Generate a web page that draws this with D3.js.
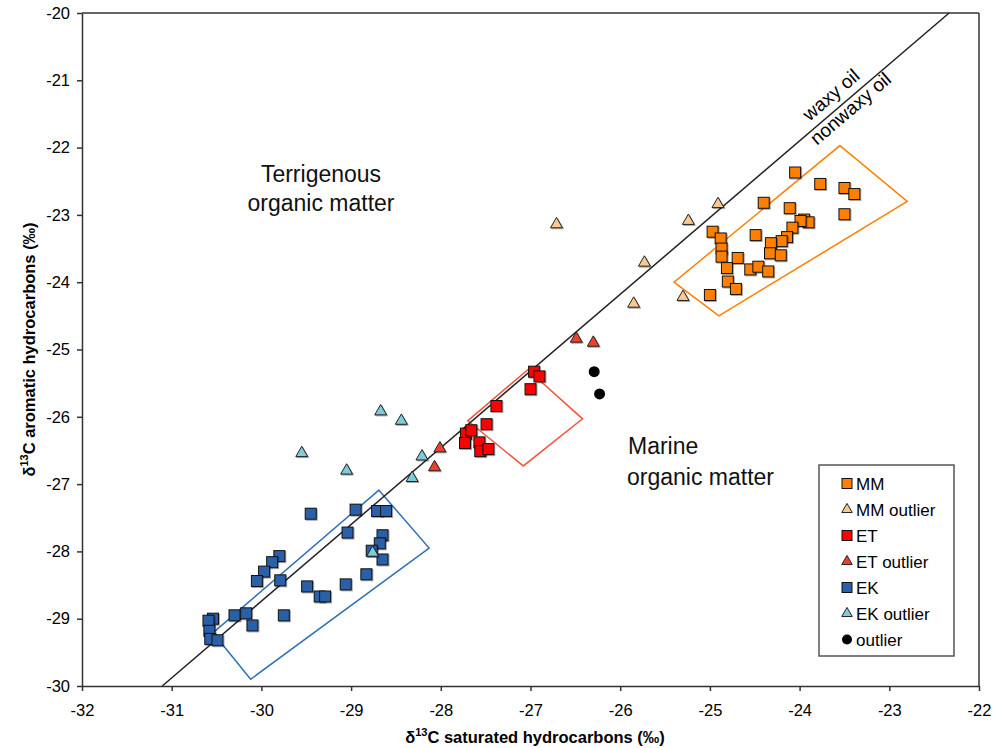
<!DOCTYPE html>
<html>
<head>
<meta charset="utf-8">
<script src="https://cdn.jsdelivr.net/npm/d3@7"></script>
<style>
  body { margin: 0; background: #fff; }
  svg { display: block; font-family: "Liberation Sans", Arial, sans-serif; }
</style>
</head>
<body>
<svg id="chart" width="995" height="748"></svg>
<script>
// [δ13C saturated, δ13C aromatic]
const mmPoints = [
  [-24.05, -22.37], [-23.77, -22.54], [-23.50, -22.60], [-23.39, -22.69], [-23.50, -22.99],
  [-24.40, -22.82], [-24.11, -22.90], [-23.95, -23.07], [-23.90, -23.11], [-23.99, -23.09],
  [-24.08, -23.19], [-24.14, -23.33], [-24.20, -23.39], [-24.32, -23.42], [-24.33, -23.57],
  [-24.21, -23.60], [-24.97, -23.25], [-24.88, -23.35], [-24.87, -23.50], [-24.87, -23.62],
  [-24.69, -23.64], [-24.49, -23.30], [-24.81, -23.79], [-24.55, -23.81], [-24.46, -23.77],
  [-24.35, -23.84], [-24.80, -23.99], [-24.71, -24.10], [-25.00, -24.19]
];
const mmOutliers = [
  [-24.91, -22.84], [-25.24, -23.09], [-25.73, -23.71], [-25.30, -24.22], [-25.85, -24.32],
  [-26.71, -23.14]
];
const etPoints = [
  [-26.96, -25.33], [-26.90, -25.40], [-27.00, -25.59], [-27.38, -25.84], [-27.49, -26.11],
  [-27.72, -26.25], [-27.66, -26.20], [-27.73, -26.39], [-27.57, -26.38], [-27.56, -26.51],
  [-27.47, -26.48]
];
const etOutliers = [[-26.49, -24.84], [-26.30, -24.90], [-28.01, -26.47], [-28.07, -26.75]];
const ekPoints = [
  [-29.45, -27.44], [-28.95, -27.38], [-28.71, -27.40], [-28.61, -27.40], [-29.04, -27.72],
  [-28.65, -27.76], [-28.68, -27.88], [-28.77, -27.99], [-28.65, -28.12], [-29.80, -28.07],
  [-29.88, -28.16], [-29.97, -28.30], [-30.05, -28.44], [-29.79, -28.43], [-28.83, -28.34],
  [-29.06, -28.49], [-29.49, -28.52], [-29.35, -28.67], [-29.29, -28.67], [-29.75, -28.95],
  [-30.30, -28.95], [-30.17, -28.92], [-30.10, -29.10], [-30.54, -29.00], [-30.59, -29.03],
  [-30.58, -29.18], [-30.57, -29.30], [-30.49, -29.32]
];
const ekOutliers = [
  [-28.67, -25.92], [-28.44, -26.06], [-29.55, -26.54], [-29.05, -26.80], [-28.21, -26.59],
  [-28.32, -26.91], [-28.76, -28.02]
];
const otherOutliers = [[-26.29, -25.33], [-26.23, -25.66]];

// field outlines
const mmField = [[-23.55, -21.97], [-22.80, -22.80], [-24.90, -24.50], [-25.40, -24.00]];
const etField = [[-27.03, -25.30], [-26.42, -26.03], [-27.08, -26.73], [-27.70, -26.06]];
const ekField = [[-28.69, -27.09], [-28.13, -27.95], [-30.12, -29.90], [-30.54, -29.21]];

// Sofer (1984) line: arom = 1.14 * sat + 5.46
const soferSlope = 1.14, soferIntercept = 5.46;

const xTicks = d3.range(-32, -21, 1);
const yTicks = d3.range(-30, -19, 1);

const colors = {
  MM: "#ff8000", MMout: "#fbc98f",
  ET: "#ff0000", ETout: "#f0402c",
  EK: "#2b60a8", EKout: "#7fcbd9",
  MMline: "#ff8000", ETline: "#f4553c", EKline: "#3070b6"
};

const svg = d3.select("#chart");
const x = d3.scaleLinear().domain([-32, -22]).range([82, 979]);
const y = d3.scaleLinear().domain([-30, -20]).range([686, 13]);

const defs = svg.append("defs");
const f = defs.append("filter").attr("id", "shadow")
  .attr("x", "-30%").attr("y", "-30%").attr("width", "160%").attr("height", "160%");
f.append("feDropShadow").attr("dx", 1).attr("dy", 1).attr("stdDeviation", 0.6)
  .attr("flood-color", "#000").attr("flood-opacity", 0.35);

// axes
const xAxis = svg.append("g")
  .attr("transform", `translate(0,${y(-30)})`)
  .call(d3.axisBottom(x).tickValues(xTicks).tickSize(5).tickSizeOuter(0).tickPadding(13).tickFormat(d3.format("d")));
const yAxis = svg.append("g")
  .attr("transform", `translate(${x(-32)},0)`)
  .call(d3.axisLeft(y).tickValues(yTicks).tickSize(5).tickSizeOuter(0).tickPadding(7).tickFormat(d3.format("d")));

[xAxis, yAxis].forEach(g => {
  g.selectAll("path, line").attr("stroke", "#333").attr("stroke-width", 1.5);
  g.selectAll("text").attr("font-size", 16.5).attr("fill", "#000")
    .attr("font-family", "Liberation Sans, Arial, sans-serif")
    .text(d => d3.format("d")(d).replace("−", "-"));
});

// top and right frame
svg.append("line").attr("x1", x(-32)).attr("x2", x(-22)).attr("y1", y(-20)).attr("y2", y(-20))
  .attr("stroke", "#333").attr("stroke-width", 1.5);
svg.append("line").attr("x1", x(-22)).attr("x2", x(-22)).attr("y1", y(-20)).attr("y2", y(-30))
  .attr("stroke", "#333").attr("stroke-width", 1.5);

// field polygons
const poly = d3.line().x(d => x(d[0])).y(d => y(d[1])).curve(d3.curveLinearClosed);
[[mmField, colors.MMline], [etField, colors.ETline], [ekField, colors.EKline]].forEach(([pts, c]) => {
  svg.append("path").attr("d", poly(pts)).attr("fill", "none").attr("stroke", c).attr("stroke-width", 1.5);
});

// Sofer line
const soferX0 = (-30 - soferIntercept) / soferSlope;
const soferX1 = (-20 - soferIntercept) / soferSlope;
svg.append("line")
  .attr("x1", x(soferX0)).attr("y1", y(-30))
  .attr("x2", x(soferX1)).attr("y2", y(-20))
  .attr("stroke", "#222").attr("stroke-width", 1.5);

// labels along the line
const angle = Math.atan2(y(-20) - y(-30), x(soferX1) - x(soferX0)) * 180 / Math.PI;
const anchorX = -24;
const anchor = [x(anchorX), y(soferSlope * anchorX + soferIntercept)];
const lineLabels = svg.append("g")
  .attr("transform", `translate(${anchor[0]},${anchor[1]}) rotate(${angle})`)
  .attr("font-size", 19).attr("fill", "#000");
lineLabels.append("text").attr("x", 20).attr("y", -8).text("waxy oil");
lineLabels.append("text").attr("x", 10).attr("y", 15).text("nonwaxy oil");

// markers
function squares(data, fill) {
  svg.append("g").selectAll("rect").data(data).join("rect")
    .attr("x", d => x(d[0]) - 5.5).attr("y", d => y(d[1]) - 5.5)
    .attr("width", 11).attr("height", 11)
    .attr("fill", fill).attr("stroke", "#111").attr("stroke-width", 1)
    .attr("filter", "url(#shadow)");
}
const tri = d3.symbol().type(d3.symbolTriangle).size(62);
function triangles(data, fill) {
  svg.append("g").selectAll("path").data(data).join("path")
    .attr("d", tri)
    .attr("transform", d => `translate(${x(d[0])},${y(d[1])})`)
    .attr("fill", fill).attr("stroke", "#222").attr("stroke-width", 1)
    .attr("filter", "url(#shadow)");
}

squares(ekPoints, colors.EK);
squares(etPoints, colors.ET);
squares(mmPoints, colors.MM);
triangles(ekOutliers, colors.EKout);
triangles(etOutliers, colors.ETout);
triangles(mmOutliers, colors.MMout);
svg.append("g").selectAll("circle").data(otherOutliers).join("circle")
  .attr("cx", d => x(d[0])).attr("cy", d => y(d[1])).attr("r", 5.5)
  .attr("fill", "#000");

// region annotations
const annot = svg.append("g").attr("font-size", 23).attr("fill", "#111");
annot.append("text").attr("x", 321).attr("y", 182).attr("text-anchor", "middle").text("Terrigenous");
annot.append("text").attr("x", 321).attr("y", 211).attr("text-anchor", "middle").text("organic matter");
annot.append("text").attr("x", 628).attr("y", 454).text("Marine");
annot.append("text").attr("x", 627).attr("y", 485).text("organic matter");

// axis titles
const xt = svg.append("text").attr("x", 535).attr("y", 743).attr("text-anchor", "middle")
  .attr("font-size", 16.5).attr("font-weight", "bold");
xt.append("tspan").text("δ");
xt.append("tspan").attr("font-size", 11).attr("dy", -7).text("13");
xt.append("tspan").attr("dy", 7).text("C saturated hydrocarbons (‰)");

const yt = svg.append("text").attr("transform", `translate(35,${(y(-20) + y(-30)) / 2}) rotate(-90)`)
  .attr("text-anchor", "middle").attr("font-size", 16.5).attr("font-weight", "bold");
yt.append("tspan").text("δ");
yt.append("tspan").attr("font-size", 11).attr("dy", -7).text("13");
yt.append("tspan").attr("dy", 7).text("C aromatic hydrocarbons (‰)");

// legend
const legendItems = [
  { label: "MM", shape: "square", fill: colors.MM },
  { label: "MM outlier", shape: "triangle", fill: colors.MMout },
  { label: "ET", shape: "square", fill: colors.ET },
  { label: "ET outlier", shape: "triangle", fill: colors.ETout },
  { label: "EK", shape: "square", fill: colors.EK },
  { label: "EK outlier", shape: "triangle", fill: colors.EKout },
  { label: "outlier", shape: "circle", fill: "#000" }
];
const legend = svg.append("g");
legend.append("rect").attr("x", 819).attr("y", 465).attr("width", 135).attr("height", 191)
  .attr("fill", "#fff").attr("stroke", "#555").attr("stroke-width", 1.5);
const rows = legend.selectAll("g.row").data(legendItems).join("g")
  .attr("transform", (d, i) => `translate(847,${483.5 + i * 26})`);
rows.each(function (d) {
  const g = d3.select(this);
  if (d.shape === "square") {
    g.append("rect").attr("x", -5).attr("y", -5).attr("width", 10).attr("height", 10)
      .attr("fill", d.fill).attr("stroke", "#111");
  } else if (d.shape === "triangle") {
    g.append("path").attr("d", d3.symbol().type(d3.symbolTriangle).size(48)())
      .attr("fill", d.fill).attr("stroke", "#222");
  } else {
    g.append("circle").attr("r", 5).attr("fill", d.fill);
  }
  g.append("text").attr("x", 9).attr("dy", "0.36em").attr("font-size", 17).text(d.label);
});
</script>
</body>
</html>
